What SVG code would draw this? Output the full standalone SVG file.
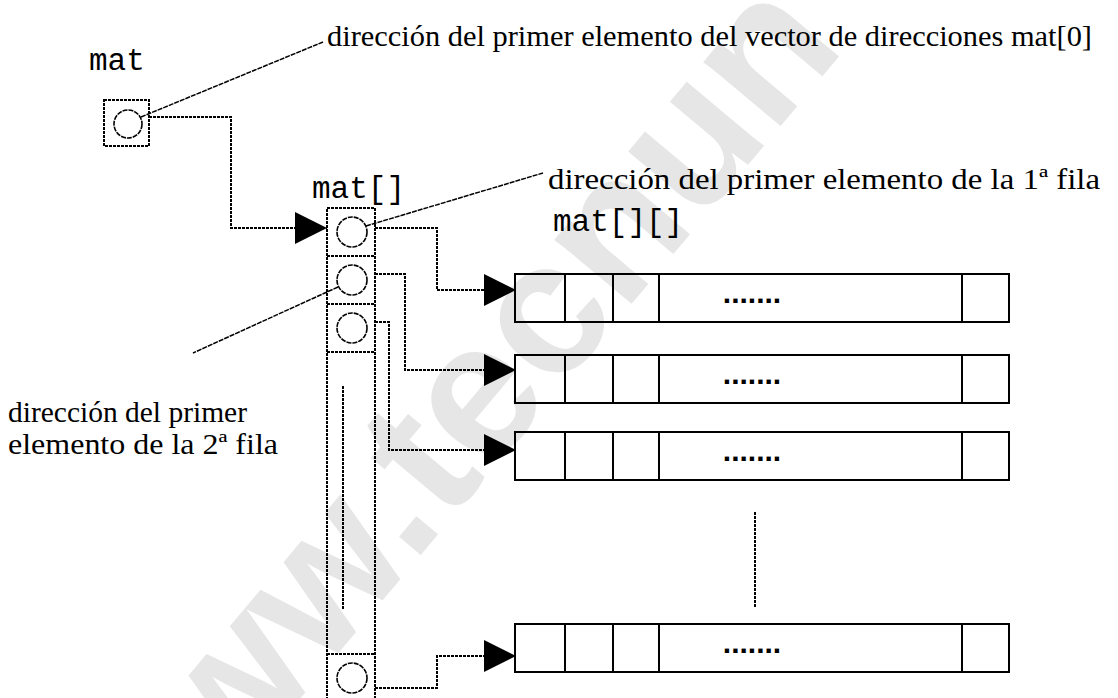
<svg xmlns="http://www.w3.org/2000/svg" width="1118" height="698" viewBox="0 0 1118 698">
  <defs>
    <marker id="arr" viewBox="0 0 32 32" refX="32" refY="16" markerWidth="32" markerHeight="32" markerUnits="userSpaceOnUse" orient="auto">
      <path d="M0,0 L32,16 L0,32 Z" fill="#000"/>
    </marker>
  </defs>
  <style>
    .dot { fill: none; stroke: #000; stroke-width: 2; stroke-dasharray: 3 1; }
    .lead { fill: none; stroke: #000; stroke-width: 1.5; stroke-dasharray: 5 1; }
    .circ { fill: none; stroke: #000; stroke-width: 1.6; stroke-dasharray: 5 1; }
    .row { fill: none; stroke: #000; stroke-width: 2; }
    .mono { font-family: "Liberation Mono", "Courier New", monospace; font-size: 31px; fill: #000; }
    .serif { font-family: "Liberation Serif", "Times New Roman", serif; font-size: 30px; fill: #000; }
    .dots { font-family: "Liberation Sans", Arial, sans-serif; font-weight: bold; font-size: 30px; fill: #000; text-anchor: middle; }
    .wm { font-family: "Liberation Sans", Arial, sans-serif; font-weight: bold; font-size: 190px; fill: #e6e6e6; }
  </style>
  <rect width="1118" height="698" fill="#fff"/>

  <g id="watermark">
    <text class="wm" transform="translate(132,899) rotate(-50)">www.tecnun</text>
  </g>

  <g id="labels">
    <text class="mono" x="89" y="70">mat</text>
    <text class="mono" x="312" y="198">mat[]</text>
    <text class="mono" x="553" y="231">mat[][]</text>
    <text class="serif" x="327" y="46" textLength="765" lengthAdjust="spacingAndGlyphs">dirección del primer elemento del vector de direcciones mat[0]</text>
    <text class="serif" x="548" y="189" textLength="552" lengthAdjust="spacingAndGlyphs">dirección del primer elemento de la 1ª fila</text>
    <text class="serif" x="8" y="422" textLength="239" lengthAdjust="spacingAndGlyphs">dirección del primer</text>
    <text class="serif" x="8" y="454" textLength="270" lengthAdjust="spacingAndGlyphs">elemento de la 2ª fila</text>
  </g>

  <g id="node-mat">
    <rect class="dot" x="104" y="100" width="45" height="46"/>
    <circle class="circ" cx="128" cy="124" r="14"/>
  </g>

  <g id="node-mat-vector">
    <rect class="dot" x="327" y="208" width="48" height="500"/>
    <line class="dot" x1="327" y1="256" x2="375" y2="256"/>
    <line class="dot" x1="327" y1="304" x2="375" y2="304"/>
    <line class="dot" x1="327" y1="352" x2="375" y2="352"/>
    <line class="dot" x1="327" y1="654" x2="375" y2="654"/>
    <line class="dot" x1="343" y1="386" x2="343" y2="609"/>
    <circle class="circ" cx="352" cy="232" r="15"/>
    <circle class="circ" cx="352" cy="280" r="15"/>
    <circle class="circ" cx="352" cy="328" r="15"/>
    <circle class="circ" cx="352" cy="678" r="15"/>
  </g>

  <g id="node-row1">
    <rect class="row" x="515" y="274" width="494" height="48"/>
    <path class="row" d="M565,274V322M613,274V322M659,274V322M962,274V322"/>
    <text class="dots" x="752" y="303">.......</text>
  </g>
  <g id="node-row2">
    <rect class="row" x="515" y="355" width="494" height="48"/>
    <path class="row" d="M565,355V403M613,355V403M659,355V403M962,355V403"/>
    <text class="dots" x="752" y="384">.......</text>
  </g>
  <g id="node-row3">
    <rect class="row" x="515" y="432" width="494" height="48"/>
    <path class="row" d="M565,432V480M613,432V480M659,432V480M962,432V480"/>
    <text class="dots" x="752" y="461">.......</text>
  </g>
  <g id="node-row4">
    <rect class="row" x="515" y="624" width="494" height="48"/>
    <path class="row" d="M565,624V672M613,624V672M659,624V672M962,624V672"/>
    <text class="dots" x="752" y="653">.......</text>
  </g>
  <g id="ellipsis">
    <line class="dot" x1="755" y1="512" x2="755" y2="607"/>
  </g>

  <g id="connectors">
    <path class="dot" d="M149,117 H231 V228 H327" marker-end="url(#arr)"/>
    <path class="dot" d="M375,228 H437 V290 H516" marker-end="url(#arr)"/>
    <path class="dot" d="M375,274 H405 V370 H516" marker-end="url(#arr)"/>
    <path class="dot" d="M375,322 H389 V450 H516" marker-end="url(#arr)"/>
    <path class="dot" d="M375,688 H437 V656 H516" marker-end="url(#arr)"/>
    <line class="lead" x1="141" y1="117" x2="323" y2="42"/>
    <line class="lead" x1="366" y1="226" x2="543" y2="173"/>
    <line class="lead" x1="338" y1="287" x2="193" y2="353"/>
  </g>
</svg>
